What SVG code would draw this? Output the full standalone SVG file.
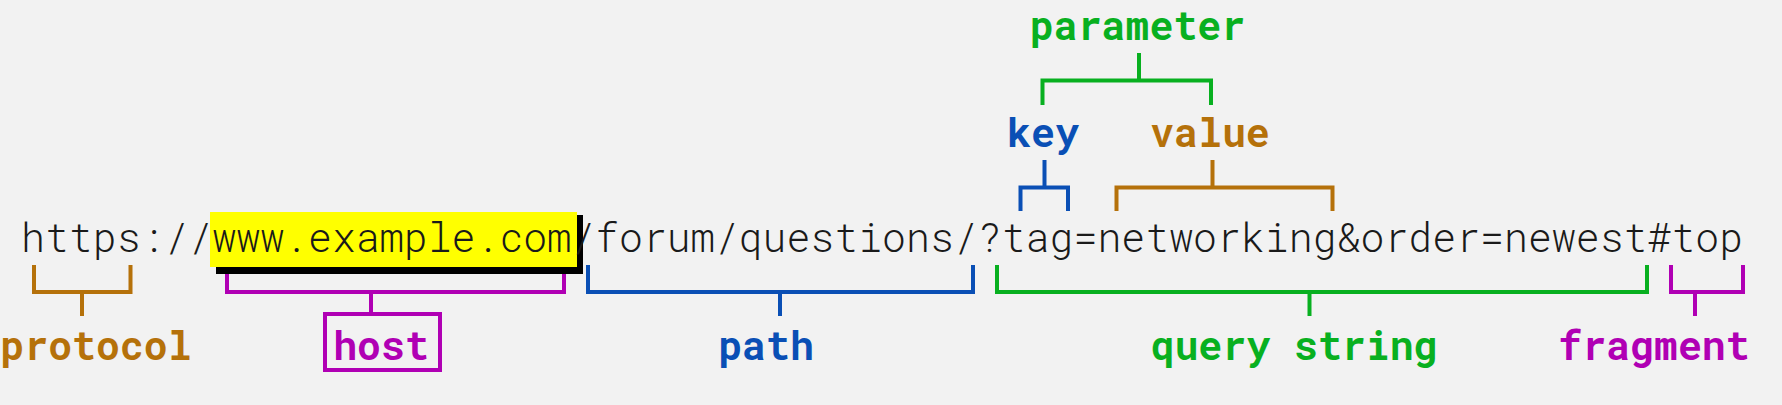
<svg xmlns="http://www.w3.org/2000/svg" width="1782" height="405" viewBox="0 0 1782 405">
  <style>
    .url { font-family: "Roboto Mono", "DejaVu Sans Mono", "Liberation Mono", monospace; font-size: 39.86px; font-weight: 300; fill: #1a1a1a; }
    .lbl { font-family: "Roboto Mono", "DejaVu Sans Mono", "Liberation Mono", monospace; font-size: 39.86px; font-weight: bold; text-anchor: middle; }
    .br { fill: none; stroke-width: 4; stroke-linejoin: miter; stroke-linecap: butt; }
    .brown { fill: #b5710a; stroke: #b5710a; }
    .magenta { fill: #b000b4; stroke: #b000b4; }
    .blue { fill: #0a4fb5; stroke: #0a4fb5; }
    .green { fill: #08b020; stroke: #08b020; }
    .lbl.brown, .lbl.magenta, .lbl.blue, .lbl.green { stroke: none; }
  </style>
  <rect x="0" y="0" width="1782" height="405" fill="#f2f2f2"/>

  <g id="connectors">
    <path class="br brown" style="fill:none" d="M34,265 V292 H130.5 V265 M82,292 V316"/>
    <path class="br magenta" style="fill:none" d="M227,265 V292 H564 V265 M371,292 V314"/>
    <path class="br blue" style="fill:none" d="M588,265 V292 H973 V265 M780,292 V316"/>
    <path class="br green" style="fill:none" d="M997,265 V292 H1647 V265 M1309.5,292 V316"/>
    <path class="br magenta" style="fill:none" d="M1671,265 V292 H1743 V265 M1695,292 V316"/>
    <path class="br green" style="fill:none" d="M1042.5,105 V80.5 H1211 V105 M1139,80.5 V53"/>
    <path class="br blue" style="fill:none" d="M1020.5,211 V187.5 H1068 V211 M1044.5,187.5 V160"/>
    <path class="br brown" style="fill:none" d="M1116.5,211 V187.5 H1332.5 V211 M1212.5,187.5 V160"/>
  </g>

  <g id="url">
    <rect x="216" y="215" width="367" height="59" fill="#000000"/>
    <rect x="210" y="212" width="367" height="55" fill="#ffff00"/>
    <text class="url" x="21" y="252">https://www.example.com/forum/questions/?tag=networking&amp;order=newest#top</text>
  </g>

  <g id="protocol"><text class="lbl brown" x="96" y="360">protocol</text></g>
  <g id="host">
    <rect class="br magenta" style="fill:none" x="325" y="314" width="115" height="56"/>
    <text class="lbl magenta" x="381" y="360">host</text>
  </g>
  <g id="path"><text class="lbl blue" x="766" y="360">path</text></g>
  <g id="query-string"><text class="lbl green" x="1294" y="360">query string</text></g>
  <g id="fragment"><text class="lbl magenta" x="1654" y="360">fragment</text></g>
  <g id="parameter"><text class="lbl green" x="1137.5" y="40">parameter</text></g>
  <g id="key"><text class="lbl blue" x="1043" y="147">key</text></g>
  <g id="value"><text class="lbl brown" x="1210" y="147">value</text></g>
</svg>
